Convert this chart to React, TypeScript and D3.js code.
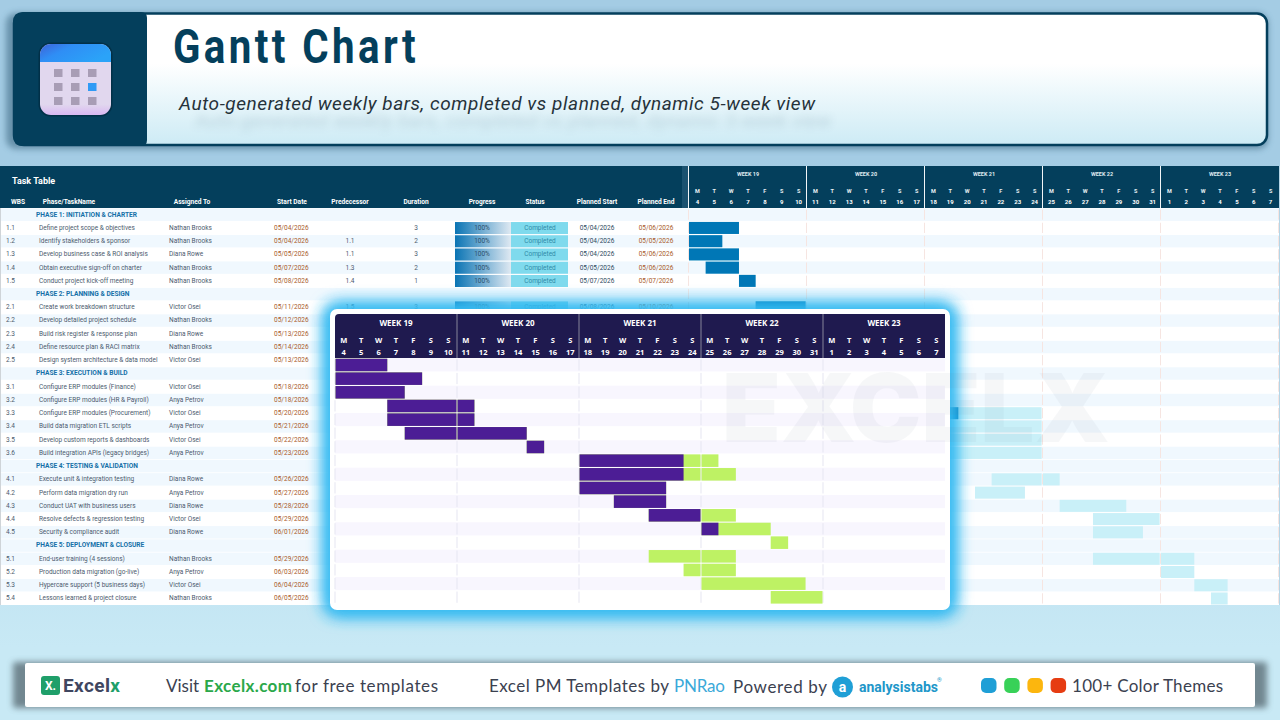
import React from 'react';
import * as d3 from 'd3';

const wbs = ['', '1.1', '1.2', '1.3', '1.4', '1.5', '', '2.1', '2.2', '2.3', '2.4', '2.5', '', '3.1', '3.2', '3.3', '3.4', '3.5', '3.6', '', '4.1', '4.2', '4.3', '4.4', '4.5', '', '5.1', '5.2', '5.3', '5.4'];
const names = ['PHASE 1: INITIATION & CHARTER', 'Define project scope & objectives', 'Identify stakeholders & sponsor', 'Develop business case & ROI analysis', 'Obtain executive sign-off on charter', 'Conduct project kick-off meeting',
  'PHASE 2: PLANNING & DESIGN', 'Create work breakdown structure', 'Develop detailed project schedule', 'Build risk register & response plan', 'Define resource plan & RACI matrix', 'Design system architecture & data model',
  'PHASE 3: EXECUTION & BUILD', 'Configure ERP modules (Finance)', 'Configure ERP modules (HR & Payroll)', 'Configure ERP modules (Procurement)', 'Build data migration ETL scripts', 'Develop custom reports & dashboards', 'Build integration APIs (legacy bridges)',
  'PHASE 4: TESTING & VALIDATION', 'Execute unit & integration testing', 'Perform data migration dry run', 'Conduct UAT with business users', 'Resolve defects & regression testing', 'Security & compliance audit',
  'PHASE 5: DEPLOYMENT & CLOSURE', 'End-user training (4 sessions)', 'Production data migration (go-live)', 'Hypercare support (5 business days)', 'Lessons learned & project closure'];
const assignees = ['', 'Nathan Brooks', 'Nathan Brooks', 'Diana Rowe', 'Nathan Brooks', 'Nathan Brooks', '', 'Victor Osei', 'Nathan Brooks', 'Diana Rowe', 'Nathan Brooks', 'Victor Osei', '', 'Victor Osei', 'Anya Petrov', 'Victor Osei', 'Anya Petrov', 'Victor Osei', 'Anya Petrov', '', 'Diana Rowe', 'Anya Petrov', 'Diana Rowe', 'Victor Osei', 'Diana Rowe', '', 'Nathan Brooks', 'Anya Petrov', 'Victor Osei', 'Nathan Brooks'];
const startDates = ['', '05/04/2026', '05/04/2026', '05/05/2026', '05/07/2026', '05/08/2026', '', '05/11/2026', '05/12/2026', '05/13/2026', '05/14/2026', '05/13/2026', '', '05/18/2026', '05/18/2026', '05/20/2026', '05/21/2026', '05/22/2026', '05/23/2026', '', '05/26/2026', '05/27/2026', '05/28/2026', '05/29/2026', '06/01/2026', '', '05/29/2026', '06/03/2026', '06/04/2026', '06/05/2026'];

const detailRows = [1, 2, 3, 4, 5, 7];
const predecessors = ['', '1.1', '1.1', '1.3', '1.4', '1.5'];
const durations = [3, 2, 3, 2, 1, 3];
const plannedStarts = ['05/04/2026', '05/04/2026', '05/04/2026', '05/05/2026', '05/07/2026', '05/08/2026'];
const plannedEnds = ['05/06/2026', '05/05/2026', '05/06/2026', '05/06/2026', '05/07/2026', '05/10/2026'];

const columnHeads = ['WBS', 'Phase/TaskName', 'Assigned To', 'Start Date', 'Predecessor', 'Duration', 'Progress', 'Status', 'Planned Start', 'Planned End'];
const columnHeadX = [18, 69, 192, 292, 350, 416, 482, 535, 597, 656];

const weekLabels = ['WEEK 19', 'WEEK 20', 'WEEK 21', 'WEEK 22', 'WEEK 23'];
const dayLetters = ['M', 'T', 'W', 'T', 'F', 'S', 'S'];
const dayNumbers = [4, 5, 6, 7, 8, 9, 10, 11, 12, 13, 14, 15, 16, 17, 18, 19, 20, 21, 22, 23, 24, 25, 26, 27, 28, 29, 30, 31, 1, 2, 3, 4, 5, 6, 7];

const tableBarRows = [1, 2, 3, 4, 5, 7, 15, 16, 17, 18, 20, 21, 22, 23, 24, 26, 27, 28, 29];
const tableBarStart = [0, 0, 0, 1, 3, 4, 15, 15, 15, 15, 18, 17, 22, 24, 24, 24, 28, 30, 31];
const tableBarEnd = [3, 2, 3, 3, 4, 7, 21, 21, 21, 21, 22, 20, 26, 28, 27, 30, 30, 32, 32];
const tableBarDone = [3, 2, 3, 3, 4, 7, 16, 15, 15, 15, 18, 17, 22, 24, 24, 24, 28, 30, 31];

const insetStart = [0, 0, 0, 3, 3, 4, 11, 14, 14, 14, 16, 18, 21, 25, 18, 20, 21, 25];
const insetEnd = [3, 5, 4, 8, 8, 11, 12, 22, 23, 19, 19, 23, 25, 26, 23, 23, 27, 28];
const insetDone = [3, 5, 4, 8, 8, 11, 12, 20, 20, 19, 19, 21, 22, 25, 18, 20, 21, 25];

const sans = 'Roboto, sans-serif';
const DARK = '#043f5c';

function weekPieces(s: number, e: number): [number, number][] {
  const out: [number, number][] = [];
  let a = s;
  while (a < e) {
    const b = Math.min(e, (Math.floor(a / 7) + 1) * 7);
    out.push([a, b]);
    a = b;
  }
  return out;
}

export default function App() {
  const rowIdx = d3.range(wbs.length);
  const rowY = d3.scaleLinear().domain([0, 30]).range([208, 605]);
  const rh = rowY(1) - rowY(0);
  const weekX = d3.scaleLinear().domain([0, 5]).range([689, 1279]);
  const dayIn = d3.scaleLinear().domain([0, 7]).range([0, 116.6]);
  const tx = (d: number) => {
    const w = Math.floor(d / 7);
    return weekX(w) + dayIn(d - w * 7);
  };
  const txEnd = (d: number) => (d % 7 === 0 ? weekX(d / 7 - 1) + dayIn(7) : tx(d));
  const dayCenter = d3.scaleBand<number>().domain(d3.range(7)).range([0, 118]);

  const ix = d3.scaleLinear().domain([0, 35]).range([335, 945]);
  const iy = d3.scaleLinear().domain([0, 18]).range([358, 604]);
  const irh = iy(1) - iy(0);
  const iweeks = d3.range(5);

  const light = (i: number) => wbs[i] === '' || i % 2 === 0;

  return (
    <svg width={1280} height={720} viewBox="0 0 1280 720" style={{ position: 'fixed', left: 0, top: 0 }} fontFamily={sans}>
      <defs>
        <linearGradient id="bg" x1="0" y1="0" x2="0" y2="1">
          <stop offset="0.22" stopColor="#a4cce4" />
          <stop offset="0.9" stopColor="#c8e9f5" />
        </linearGradient>
        <linearGradient id="card" x1="0" y1="0" x2="0" y2="1">
          <stop offset="0.38" stopColor="#ffffff" />
          <stop offset="1" stopColor="#cdebf5" />
        </linearGradient>
        <linearGradient id="prog" x1="0" y1="0" x2="1" y2="0">
          <stop offset="0" stopColor="#0a74b4" />
          <stop offset="1" stopColor="#dfe9f2" />
        </linearGradient>
        <linearGradient id="iconTop" x1="0" y1="0" x2="1" y2="0.5">
          <stop offset="0" stopColor="#3d62d8" />
          <stop offset="0.4" stopColor="#2f8ef5" />
          <stop offset="1" stopColor="#2ba3f8" />
        </linearGradient>
        <linearGradient id="iconBody" x1="0" y1="0" x2="0" y2="1">
          <stop offset="0.85" stopColor="#e1d7ee" />
          <stop offset="1" stopColor="#d9b8f2" />
        </linearGradient>
        <filter id="soft" x="-5%" y="-20%" width="110%" height="140%"><feGaussianBlur stdDeviation="3" /></filter>
        <filter id="softer" x="-10%" y="-150%" width="120%" height="400%"><feGaussianBlur stdDeviation="4.5" /></filter>
        <filter id="glow" x="-10%" y="-20%" width="120%" height="140%"><feGaussianBlur stdDeviation="8" /></filter>
        <clipPath id="iconClip"><rect x={40} y={44} width={71} height={71} rx={11} /></clipPath>
      </defs>

      <rect width={1280} height={720} fill="url(#bg)" />

      {/* title card */}
      <rect x={6} y={13} width={1262} height={136} rx={10} fill="#34617a" opacity={0.55} filter="url(#soft)" />
      <rect x={14} y={13.5} width={1253} height={131.5} rx={10} fill="url(#card)" stroke={DARK} strokeWidth={2.5} />
      <path d="M23 12 H141 Q147 12 147 18 V140 Q147 146 141 146 H23 Q13 146 13 136 V22 Q13 12 23 12 Z" fill={DARK} />
      <rect x={38.5} y={42.5} width={74} height={74} rx={12} fill="#02273b" opacity={0.6} />
      <g clipPath="url(#iconClip)">
        <rect x={40} y={44} width={71} height={71} fill="url(#iconBody)" />
        <rect x={40} y={44} width={71} height={18} fill="url(#iconTop)" />
      </g>
      {[54, 71, 88].map((x, c) => [69, 83, 97].map((y, r) => (
        <rect key={`${c}-${r}`} x={x} y={y} width={8.5} height={8} fill={c === 2 && r === 1 ? '#2f9af5' : '#a89db5'} />
      )))}
      <text transform="translate(173 63) scale(0.84 1)" fontSize={48} fontWeight={700} fill={DARK} textLength={289} lengthAdjust="spacing">Gantt Chart</text>
      <text x={195} y={127} fontSize={19} fontStyle="italic" fill="#3b6478" opacity={0.24} filter="url(#softer)" textLength={636} aria-hidden="true">Auto-generated weekly bars, completed vs planned, dynamic 5-week view</text>
      <text x={179} y={110} fontSize={19} fontStyle="italic" fill="#26323a" textLength={636}>Auto-generated weekly bars, completed vs planned, dynamic 5-week view</text>

      {/* task table */}
      <rect x={0} y={166} width={1280} height={439} fill="#ffffff" />
      <rect x={0} y={166} width={1280} height={42} fill={DARK} />
      <rect x={682} y={166} width={6} height={42} fill="#1b5270" />
      <text x={12} y={184} fontSize={9} fontWeight={700} fill="#fff">Task Table</text>
      {columnHeads.map((h, i) => (
        <text key={h} x={columnHeadX[i]} y={204} fontSize={6.6} fontWeight={700} fill="#fff" textAnchor="middle">{h}</text>
      ))}
      {rowIdx.map(i => (
        <rect key={i} x={1} y={rowY(i) + 0.5} width={1278} height={rh - 0.8} fill={light(i) ? '#f0f8fe' : '#ffffff'} />
      ))}
      <rect x={0} y={208} width={1} height={397} fill="#cfd4d8" />
      <rect x={1279} y={166} width={1} height={439} fill="#b5d5e6" />

      {/* table gantt header */}
      {weekLabels.map((w, k) => (
        <g key={w}>
          <rect x={weekX(k) - 1} y={166} width={1} height={42} fill="#f2f5f7" />
          <text x={weekX(k) + 59} y={176} fontSize={5.5} fontWeight={700} fill="#dfe9ef" textAnchor="middle">{w}</text>
          {dayLetters.map((l, j) => (
            <text key={j} x={weekX(k) + dayCenter(j)! + 59 / 7} y={193} fontSize={5.5} fontWeight={700} fill="#e9f0f4" textAnchor="middle">{l}</text>
          ))}
          {dayLetters.map((_, j) => (
            <text key={j} x={weekX(k) + dayCenter(j)! + 59 / 7} y={204} fontSize={6} fontWeight={700} fill="#fff" textAnchor="middle">{dayNumbers[k * 7 + j]}</text>
          ))}
        </g>
      ))}

      {/* table rows */}
      {rowIdx.map(i => {
        const cy = rowY(i) + rh / 2 + 2;
        return wbs[i] === '' ? (
          <text key={i} x={36} y={cy} fontSize={6.6} fontWeight={700} fill="#1570a8">{names[i]}</text>
        ) : (
          <g key={i} fontSize={6.5} fill="#4c5b6e">
            <text x={6} y={cy}>{wbs[i]}</text>
            <text x={39} y={cy}>{names[i]}</text>
            <text x={169} y={cy}>{assignees[i]}</text>
            <text x={274} y={cy} fill="#a85a2a">{startDates[i]}</text>
          </g>
        );
      })}
      {detailRows.map((r, k) => {
        const y = rowY(r);
        const cy = y + rh / 2 + 2;
        return (
          <g key={r} fontSize={6.5} textAnchor="middle" fill="#4c5b6e">
            {predecessors[k] && <text x={350} y={cy}>{predecessors[k]}</text>}
            <text x={416} y={cy}>{durations[k]}</text>
            <rect x={455} y={y + 0.8} width={56} height={rh - 1.2} fill="url(#prog)" />
            <rect x={511} y={y + 0.8} width={57} height={rh - 1.2} fill="#7fdaed" />
            <text x={482} y={cy} fill="#2b4e6c">100%</text>
            <text x={540} y={cy} fill="#2f8ba8">Completed</text>
            <text x={597} y={cy} fill="#2e4a60">{plannedStarts[k]}</text>
            <text x={656} y={cy} fill="#a85a2a">{plannedEnds[k]}</text>
          </g>
        );
      })}

      {/* table week rules */}
      {d3.range(0, 6).map(k => rowIdx.map(i => (
        <rect key={`${k}-${i}`} x={weekX(k) - 1} y={rowY(i) + 1.5} width={1} height={rh - 3} fill="#f6e5e1" />
      )))}

      {/* table bars */}
      {tableBarRows.map((r, k) => (
        <g key={r}>
          {weekPieces(tableBarStart[k], tableBarEnd[k]).map(([a, b]) => (
            <rect key={a} x={tx(a)} y={rowY(r) + 0.7} width={txEnd(b) - tx(a)} height={rh - 1.2} fill="#c9f0f8" />
          ))}
          {weekPieces(tableBarStart[k], tableBarDone[k]).map(([a, b]) => (
            <rect key={`d${a}`} x={tx(a)} y={rowY(r) + 0.7} width={txEnd(b) - tx(a)} height={rh - 1.2} fill="#0077b6" />
          ))}
        </g>
      ))}

      {/* inset card */}
      <rect x={324} y={303} width={632} height={313} rx={14} fill="#22b4f0" filter="url(#glow)" />
      <rect x={326} y={305} width={628} height={309} rx={13} fill="#3cbdf2" opacity={0.9} filter="url(#glow)" />
      <rect x={330} y={309} width={620} height={301} rx={7} fill="#ffffff" />
      <path d="M339 314 H945 V358 H335 V318 Q335 314 339 314 Z" fill="#1f1a4f" />
      {iweeks.map(k => (
        <g key={k}>
          <text x={ix(k * 7 + 3.5)} y={326} fontSize={8} fontWeight={700} fill="#fff" fontFamily="'Open Sans', sans-serif" textAnchor="middle">{weekLabels[k]}</text>
          {dayLetters.map((l, j) => (
            <text key={j} x={ix(k * 7 + j + 0.5)} y={343} fontSize={7.5} fontWeight={700} fill="#fff" fontFamily="'Open Sans', sans-serif" textAnchor="middle">{l}</text>
          ))}
          {dayLetters.map((_, j) => (
            <text key={j} x={ix(k * 7 + j + 0.5)} y={355} fontSize={7.5} fontWeight={700} fill="#fff" fontFamily="'Open Sans', sans-serif" textAnchor="middle">{dayNumbers[k * 7 + j]}</text>
          ))}
          {k > 0 && <rect x={ix(k * 7) - 0.5} y={314} width={1} height={44} fill="#85839a" />}
        </g>
      ))}
      {d3.range(18).map(i => (
        <rect key={i} x={335} y={iy(i) + 0.3} width={610} height={irh - 0.5} fill={i % 2 === 0 ? '#f8f6fe' : '#ffffff'} />
      ))}
      {d3.range(0, 5).map(k => d3.range(18).map(i => (
        <rect key={`${k}-${i}`} x={ix(k * 7) - 0.5} y={iy(i) + 1.2} width={1} height={irh - 2.4} fill="#e5e5f1" />
      )))}
      {insetStart.map((s, i) => (
        <g key={i}>
          {weekPieces(s, insetEnd[i]).map(([a, b]) => (
            <rect key={a} x={ix(a) + (a % 7 === 0 ? 0.5 : 0)} y={iy(i) + 0.7} width={ix(b) - ix(a) - (a % 7 === 0 ? 0.5 : 0) - (b % 7 === 0 ? 0.5 : 0)} height={irh - 1.1} fill="#bef264" />
          ))}
          {weekPieces(s, insetDone[i]).map(([a, b]) => (
            <rect key={`d${a}`} x={ix(a) + (a % 7 === 0 ? 0.5 : 0)} y={iy(i) + 0.7} width={ix(b) - ix(a) - (a % 7 === 0 ? 0.5 : 0) - (b % 7 === 0 ? 0.5 : 0)} height={irh - 1.1} fill="#4c1d95" />
          ))}
        </g>
      ))}

      {/* watermark */}
      <text x={722} y={442} fontSize={95} fontWeight={900} fontFamily="Inter, sans-serif" fill="#64748b" opacity={0.05} textLength={388} lengthAdjust="spacingAndGlyphs">EXCELX</text>

      {/* footer */}
      <rect x={13} y={662} width={1254} height={46} rx={2} fill="#62767f" opacity={0.85} filter="url(#soft)" />
      <rect x={25} y={663} width={1230} height={44} rx={2} fill="#ffffff" />
      <rect x={41} y={676} width={19} height={19} rx={3} fill="#1f9f6a" />
      <text x={50.5} y={690} fontSize={12} fontWeight={700} fill="#fff" textAnchor="middle">X.</text>
      <text x={63} y={692} fontSize={19} fontWeight={700} fill="#3f4660" textLength={57}>Excel<tspan fill="#1f9f6a">x</tspan></text>
      <g fontSize={17} fill="#3b4150" fontFamily="Lato, sans-serif">
        <text x={166} y={692}>Visit</text>
        <text x={204} y={692} fontWeight={700} fill="#2ba84a" textLength={88}>Excelx.com</text>
        <text x={295} y={692} textLength={143}>for free templates</text>
        <text x={489} y={692} textLength={180}>Excel PM Templates by</text>
        <text x={674} y={692} fill="#3ba9d9" textLength={51}>PNRao</text>
        <text x={733} y={693} textLength={94}>Powered by</text>
        <text x={1072} y={692} textLength={151}>100+ Color Themes</text>
      </g>
      <circle cx={842.5} cy={687} r={10.5} fill="#1f9fd6" />
      <text x={842.5} y={692} fontSize={14} fontWeight={700} fill="#fff" textAnchor="middle">a</text>
      <text x={859} y={692} fontSize={14} fontWeight={700} fill="#2196c9" textLength={79}>analysistabs</text>
      <text x={937} y={682} fontSize={6} fill="#2196c9">®</text>
      {['#1f9fd6', '#38d158', '#fcb60e', '#e63c12'].map((c, i) => (
        <rect key={c} x={981 + i * 23.2} y={678} width={15.5} height={15} rx={5} fill={c} />
      ))}
    </svg>
  );
}
